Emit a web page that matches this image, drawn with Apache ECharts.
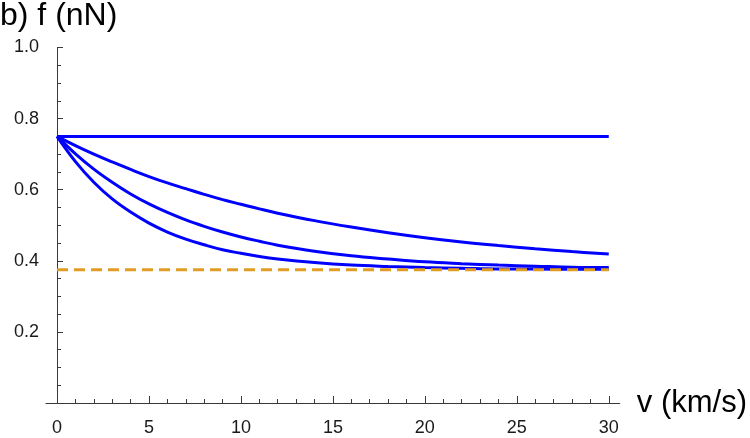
<!DOCTYPE html>
<html>
<head>
<meta charset="utf-8">
<script src="https://cdn.jsdelivr.net/npm/echarts@6/dist/echarts.min.js"></script>
<style>
html, body { margin: 0; padding: 0; background: #fff; }
#main { width: 750px; height: 438px; }
</style>
</head>
<body>
<div id="main"></div>
<script>
// speed v (km/s) and force f (nN)
var speed = [0, 1, 2, 3, 4, 5, 6, 7, 8, 9, 10, 11, 12, 14, 16, 18, 20, 22, 24, 26, 28, 30];
var forceSlow = [0.750, 0.724, 0.700, 0.678, 0.657, 0.637, 0.619, 0.603, 0.587, 0.572, 0.559, 0.546,
                 0.534, 0.513, 0.495, 0.479, 0.465, 0.453, 0.443, 0.434, 0.426, 0.419];
var forceMid = [0.750, 0.701, 0.658, 0.621, 0.588, 0.560, 0.536, 0.515, 0.497, 0.481, 0.467, 0.455,
                0.444, 0.427, 0.414, 0.405, 0.397, 0.392, 0.388, 0.385, 0.382, 0.381];
var forceFast = [0.750, 0.679, 0.621, 0.574, 0.537, 0.506, 0.481, 0.461, 0.445, 0.431, 0.421, 0.412,
                 0.405, 0.395, 0.388, 0.384, 0.381, 0.379, 0.377, 0.377, 0.376, 0.376];
var flatSpeed = [0, 30];
var forceFlat = [0.75, 0.75];
var forceLimit = [0.375, 0.375];

var xMajorTicks = [0, 5, 10, 15, 20, 25, 30];
var xMinorTicks = [1, 2, 3, 4, 6, 7, 8, 9, 11, 12, 13, 14, 16, 17, 18, 19, 21, 22, 23, 24, 26, 27, 28, 29];

function pairs(xs, ys) {
    return xs.map(function (x, i) { return [x, ys[i]]; });
}

var myChart = echarts.init(document.getElementById('main'));

var axisColor = '#3a3a3a';
var labelStyle = { color: '#1a1a1a', fontSize: 18, fontFamily: 'Liberation Sans' };

var option = {
    animation: false,
    title: {
        text: 'b) f (nN)',
        left: 0,
        top: 0,
        padding: 0,
        textStyle: { fontSize: 32, fontWeight: 'normal', color: '#000', fontFamily: 'Liberation Sans' }
    },
    grid: { left: 46, right: 129, top: 47.5, bottom: 35 },
    xAxis: [
        {
            type: 'value',
            min: -0.6,
            max: 30.6,
            position: 'bottom',
            name: 'v (km/s)',
            nameLocation: 'end',
            nameGap: 17,
            nameTextStyle: { fontSize: 31, color: '#000', fontFamily: 'Liberation Sans', verticalAlign: 'middle', padding: [16, 0, 0, 0] },
            splitLine: { show: false },
            axisLine: { show: true, onZero: false, lineStyle: { color: axisColor, width: 1 } },
            axisTick: { show: true, inside: true, length: 7, customValues: xMajorTicks, lineStyle: { color: axisColor } },
            axisLabel: Object.assign({ margin: 16, customValues: xMajorTicks }, labelStyle)
        },
        {
            type: 'value',
            min: -0.6,
            max: 30.6,
            position: 'bottom',
            splitLine: { show: false },
            axisLine: { show: false, onZero: false },
            axisTick: { show: true, inside: true, length: 4, customValues: xMinorTicks, lineStyle: { color: axisColor } },
            axisLabel: { show: false }
        }
    ],
    yAxis: {
        type: 'value',
        min: 0,
        max: 1,
        interval: 0.2,
        splitLine: { show: false },
        axisLine: { show: true, onZero: true, onZeroAxisIndex: 0, lineStyle: { color: axisColor, width: 1 } },
        axisTick: { show: true, inside: true, length: 6, lineStyle: { color: axisColor } },
        minorTick: { show: true, splitNumber: 4, length: 4, lineStyle: { color: axisColor } },
        axisLabel: Object.assign({
            margin: 7,
            formatter: function (v) { return v === 0 ? '' : v.toFixed(1); }
        }, labelStyle)
    },
    series: [
        {
            type: 'line', xAxisIndex: 0, data: pairs(flatSpeed, forceFlat),
            showSymbol: false, lineStyle: { color: '#0000ff', width: 3 }
        },
        {
            type: 'line', xAxisIndex: 0, data: pairs(speed, forceSlow),
            showSymbol: false, smooth: 0.4, lineStyle: { color: '#0000ff', width: 3 }
        },
        {
            type: 'line', xAxisIndex: 0, data: pairs(speed, forceMid),
            showSymbol: false, smooth: 0.4, lineStyle: { color: '#0000ff', width: 3 }
        },
        {
            type: 'line', xAxisIndex: 0, data: pairs(speed, forceFast),
            showSymbol: false, smooth: 0.4, lineStyle: { color: '#0000ff', width: 3 }
        },
        {
            type: 'line', xAxisIndex: 0, data: pairs(flatSpeed, forceLimit),
            showSymbol: false, lineStyle: { color: '#e19c24', width: 3, type: [11, 6] }
        }
    ]
};

myChart.setOption(option);
</script>
</body>
</html>
